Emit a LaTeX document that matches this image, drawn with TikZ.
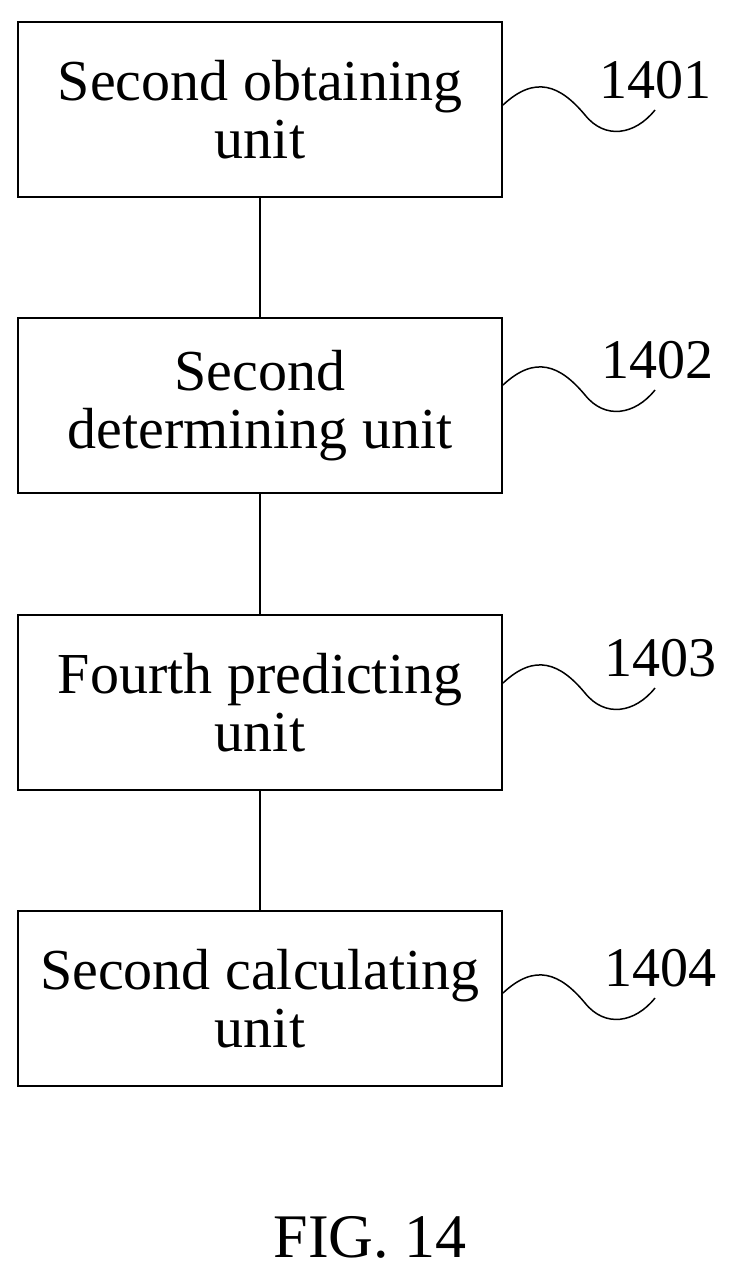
\documentclass[tikz,border=0pt]{standalone}
\usepackage{fontspec}
\setmainfont{Liberation Serif}
\begin{document}
\begin{tikzpicture}[x=1pt,y=-1pt,
  box/.style={draw,line width=2pt,minimum width=484pt,minimum height=175pt,align=center,font=\fontsize{58}{58}\selectfont,inner sep=0pt},
  lbl/.style={font=\fontsize{56}{60}\selectfont,inner sep=0pt},
  wire/.style={line width=2pt}]
\useasboundingbox (0,0) rectangle (729,1271);
\node[box] (b1) at (260,109.5) {Second obtaining\\unit};
\node[box] (b2) at (260,405.5) {Second\\determining unit};
\node[box] (b3) at (260,702.5) {Fourth predicting\\unit};
\node[box] (b4) at (260,998.5) {Second calculating\\unit};
\draw[wire] (b1) -- (b2);
\draw[wire] (b2) -- (b3);
\draw[wire] (b3) -- (b4);
\foreach \n/\t/\y/\dx in {b1/1401/80/655, b2/1402/360/657, b3/1403/658/660, b4/1404/968/660}{
  \node[lbl] (l\t) at (\dx,\y) {\t};
  \coordinate (e\t) at (655,\y+30);
  \draw[line width=1.5pt] (b1.east |- 0,\y+25) .. controls (535,\y-5) and (560,\y+5) .. (585,\y+35) .. controls (605,\y+60) and (635,\y+55) .. (e\t);
}
\node[lbl,font=\fontsize{62}{66}\selectfont] (fig) at (370,1237) {FIG. 14};
\end{tikzpicture}
\end{document}
